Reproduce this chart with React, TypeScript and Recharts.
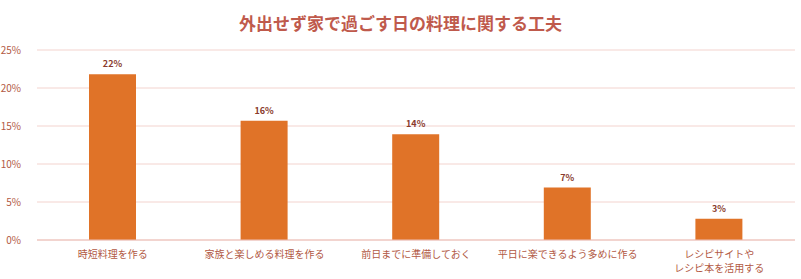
import React from "react";
import { BarChart, Bar, XAxis, YAxis, CartesianGrid, LabelList } from "recharts";

const categories = [
  "時短料理を作る",
  "家族と楽しめる料理を作る",
  "前日までに準備しておく",
  "平日に楽できるよう多めに作る",
  "レシピサイトや\nレシピ本を活用する",
];
const values = [21.8, 15.7, 13.9, 6.9, 2.8];
const yTicks = [0, 5, 10, 15, 20, 25];

const data = categories.map((name, i) => ({ name, value: values[i] }));

const font = "'Noto Sans CJK JP', 'Noto Sans', sans-serif";
const axisColor = "#b25a45";

// Category labels may wrap onto two lines
const CategoryTick = (props: any) => {
  const { x, y, payload } = props;
  const lines = String(payload.value).split("\n");
  return (
    <text x={x} y={y} textAnchor="middle" fill={axisColor} fontSize={10} fontFamily={font}>
      {lines.map((line, i) => (
        <tspan key={i} x={x} dy={i === 0 ? 10 : 14}>
          {line}
        </tspan>
      ))}
    </text>
  );
};

export default function App() {
  return (
    <div style={{ position: "absolute", left: 0, top: 0, width: 801, height: 279, background: "#fff" }}>
      <div
        style={{
          position: "absolute",
          left: 0,
          top: 10,
          width: 801,
          textAlign: "center",
          fontFamily: font,
          fontSize: 17,
          fontWeight: 700,
          color: "#bf5a4c",
        }}
      >
        外出せず家で過ごす日の料理に関する工夫
      </div>
      <BarChart
        width={801}
        height={279}
        data={data}
        margin={{ top: 50, right: 6, left: 0, bottom: 9 }}
      >
        <CartesianGrid vertical={false} stroke="#f3d3ce" />
        <XAxis
          dataKey="name"
          interval={0}
          height={30}
          tickLine={false}
          axisLine={{ stroke: "#ecc0b8" }}
          tick={<CategoryTick />}
        />
        <YAxis
          width={37}
          domain={[0, 25]}
          ticks={yTicks}
          tickFormatter={(v: number) => `${v}%`}
          tickLine={false}
          axisLine={false}
          tickMargin={10}
          tick={{ fill: axisColor, fontSize: 10, fontFamily: font }}
        />
        <Bar dataKey="value" fill="#e07328" barSize={47} isAnimationActive={false}>
          <LabelList
            dataKey="value"
            position="top"
            offset={7}
            formatter={(v: any) => `${Math.round(Number(v))}%`}
            style={{ fill: "#8a3b2c", fontSize: 9, fontWeight: 700, fontFamily: font }}
          />
        </Bar>
      </BarChart>
    </div>
  );
}
